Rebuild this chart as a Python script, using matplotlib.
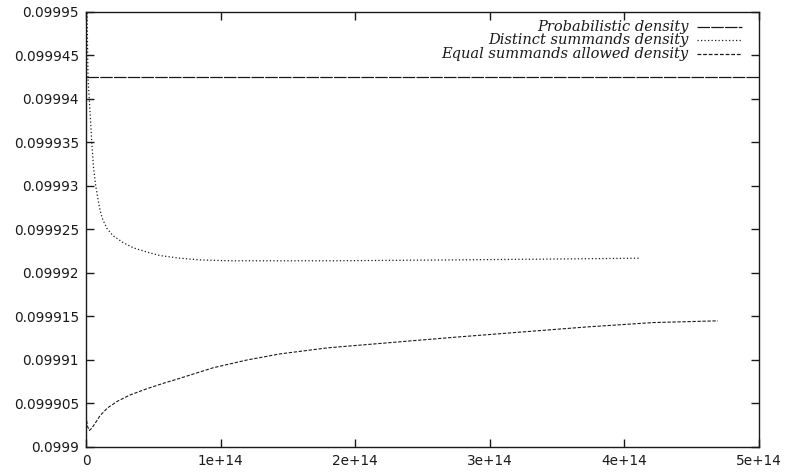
import matplotlib
matplotlib.use("Agg")
import matplotlib.pyplot as plt
from matplotlib.ticker import FixedLocator, FixedFormatter

# Probabilistic density is a constant level
prob_x = [0.0, 5.0e14]
prob_y = [0.0999425, 0.0999425]

# Distinct summands density (drops fast, then levels off)
distinct_x = [0.005e14, 0.0074e14, 0.015e14, 0.0245e14, 0.0423e14, 0.055e14,
              0.072e14, 0.10e14, 0.12e14, 0.156e14, 0.20e14, 0.275e14,
              0.35e14, 0.453e14, 0.55e14, 0.698e14, 0.85e14, 1.07e14,
              1.81e14, 2.70e14, 3.45e14, 4.12e14]
distinct_y = [0.09996, 0.09995, 0.0999422, 0.0999399, 0.0999351, 0.0999322,
              0.09993, 0.0999275, 0.0999263, 0.0999251, 0.0999243, 0.0999235,
              0.0999229, 0.0999224, 0.0999220, 0.0999217, 0.0999215, 0.0999214,
              0.0999214, 0.0999215, 0.0999216, 0.0999217]

# Equal summands allowed density (dips near zero, then climbs slowly)
equal_x = [0.0, 0.01e14, 0.025e14, 0.045e14, 0.075e14, 0.104e14, 0.16e14,
           0.238e14, 0.33e14, 0.453e14, 0.57e14, 0.698e14, 0.943e14,
           1.196e14, 1.441e14, 1.798e14, 2.726e14, 3.722e14, 4.212e14,
           4.695e14]
equal_y = [0.0999036, 0.0999024, 0.0999019, 0.0999022, 0.0999029, 0.0999036,
           0.0999045, 0.0999053, 0.0999060, 0.0999067, 0.0999073, 0.0999079,
           0.0999091, 0.0999100, 0.0999107, 0.0999114, 0.0999126, 0.0999138,
           0.0999143, 0.0999145]

y_ticks = [0.0999, 0.099905, 0.09991, 0.099915, 0.09992, 0.099925,
           0.09993, 0.099935, 0.09994, 0.099945, 0.09995]
y_labels = ["0.0999", "0.099905", "0.09991", "0.099915", "0.09992", "0.099925",
            "0.09993", "0.099935", "0.09994", "0.099945", "0.09995"]
x_ticks = [0, 1e14, 2e14, 3e14, 4e14, 5e14]
x_labels = ["0", "1e+14", "2e+14", "3e+14", "4e+14", "5e+14"]

fig = plt.figure(figsize=(7.85, 4.72), dpi=100)
ax = fig.add_axes([0.1096, 0.053, 0.8573, 0.9216])

ink = "#1a1a1a"
styles = [(0, (10, 1)), (0, (1, 1.8)), (0, (3, 1.5))]
ax.plot(prob_x, prob_y, color=ink, lw=0.9, linestyle=styles[0])
ax.plot(distinct_x, distinct_y, color=ink, lw=0.9, linestyle=styles[1])
ax.plot(equal_x, equal_y, color=ink, lw=0.8, linestyle=styles[2])

ax.set_xlim(0, 5e14)
ax.set_ylim(0.0999, 0.09995)

ax.xaxis.set_major_locator(FixedLocator(x_ticks))
ax.xaxis.set_major_formatter(FixedFormatter(x_labels))
ax.yaxis.set_major_locator(FixedLocator(y_ticks))
ax.yaxis.set_major_formatter(FixedFormatter(y_labels))
ax.tick_params(direction="in", length=6, width=1, top=True, right=True,
               labelsize=9.8, colors=ink, pad=5)
for lab in ax.get_xticklabels() + ax.get_yticklabels():
    lab.set_family("DejaVu Sans")
for side in ax.spines.values():
    side.set_linewidth(1.0)
    side.set_color(ink)

# gnuplot-style key: right-aligned labels followed by a short sample line
names = ["Probabilistic density", "Distinct summands density",
         "Equal summands allowed density"]
for i, (name, ls) in enumerate(zip(names, styles)):
    yy = 0.966 - i * 0.031
    ax.text(0.895, yy, name, transform=ax.transAxes, ha="right", va="center",
            family="DejaVu Serif", style="italic", fontsize=10.5, color=ink)
    ax.plot([0.908, 0.975], [yy, yy], transform=ax.transAxes, color=ink,
            lw=0.9, linestyle=ls)

fig.savefig("out.png", dpi=100)
